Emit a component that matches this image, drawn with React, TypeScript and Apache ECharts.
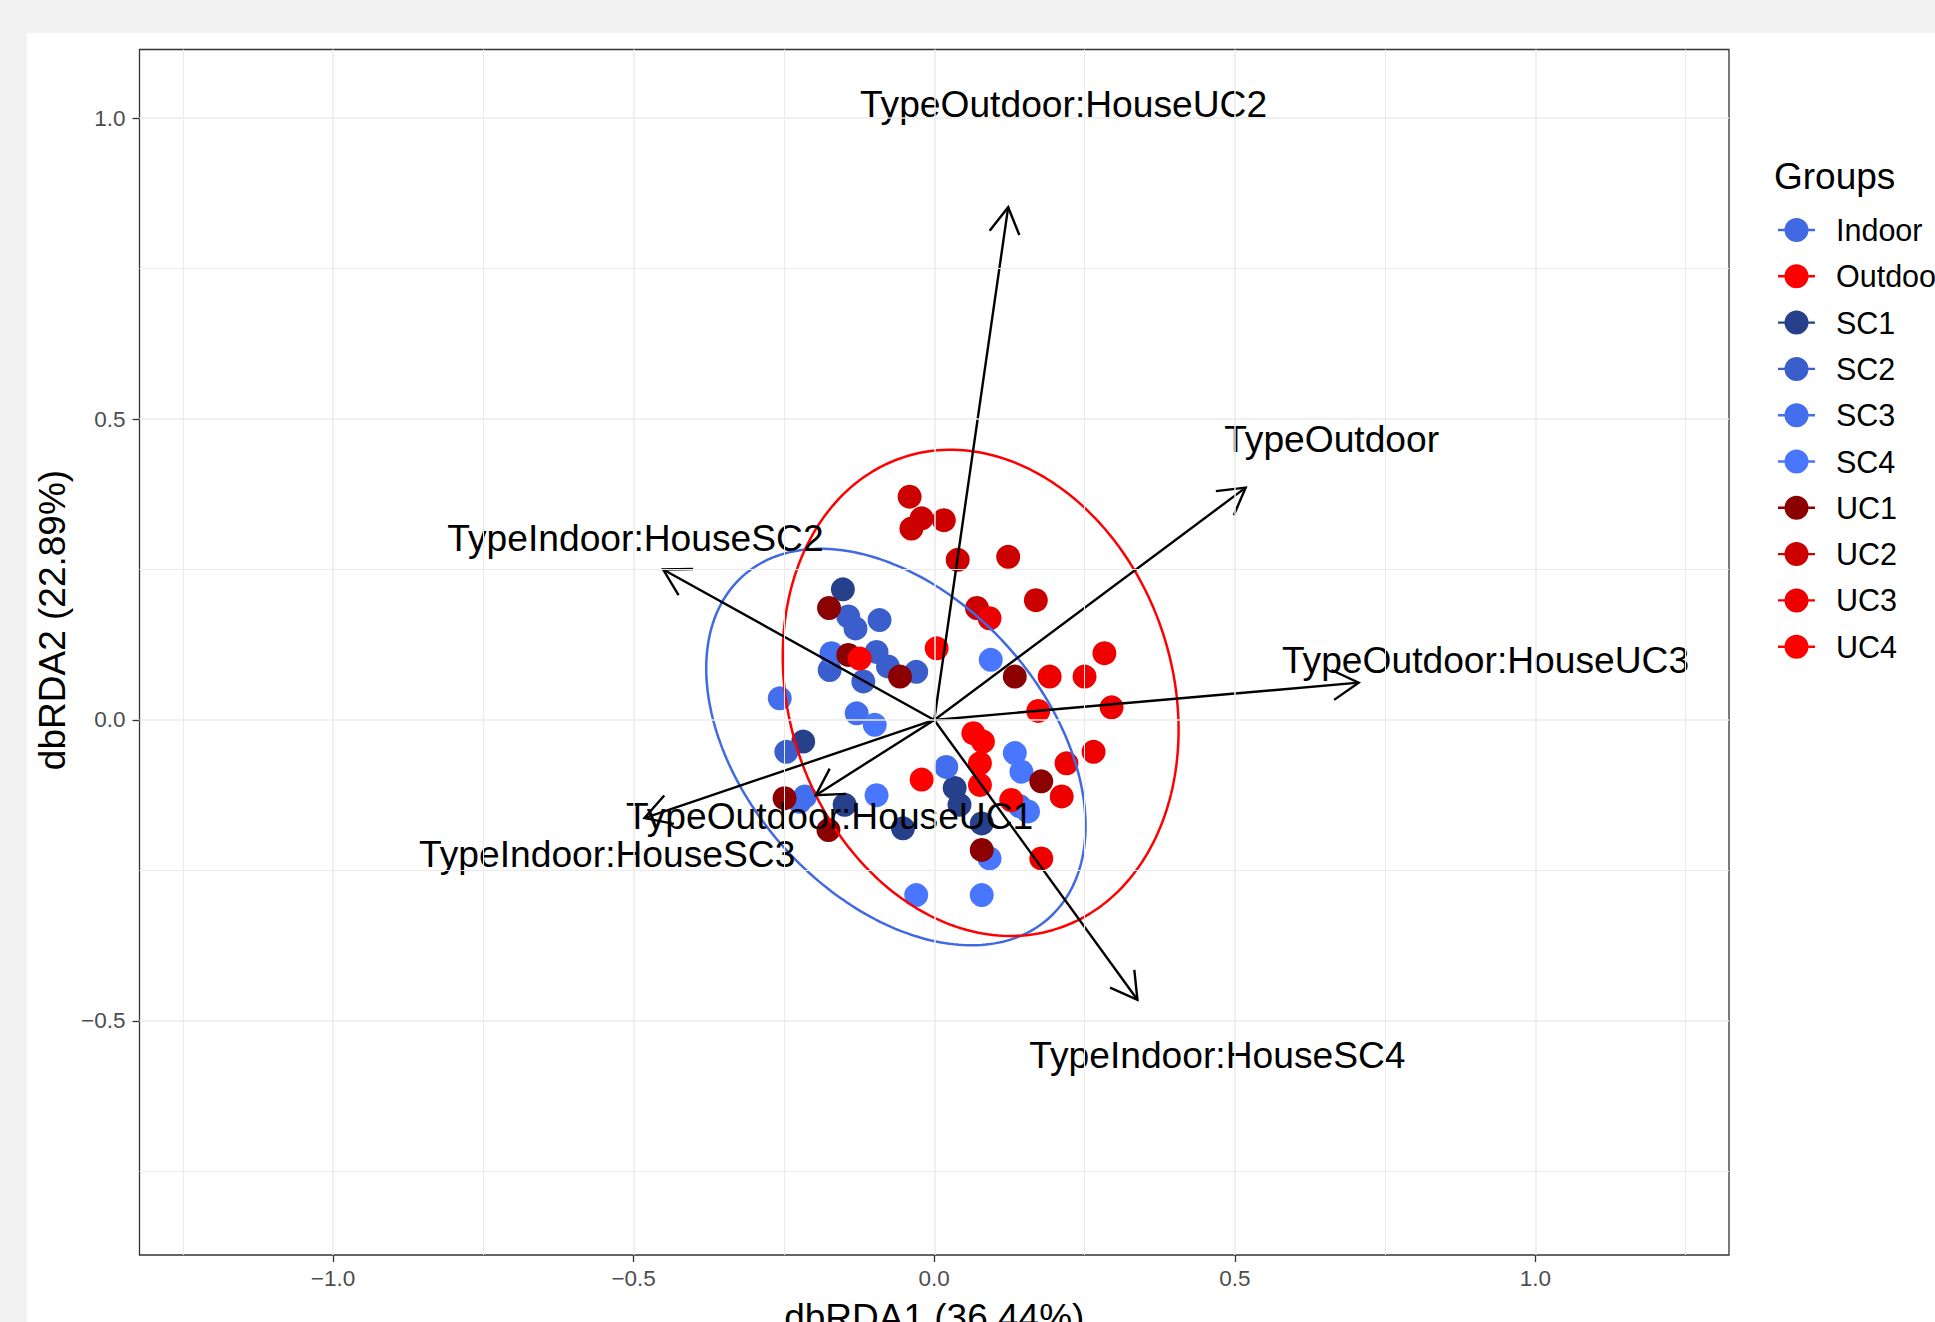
import React, { useEffect, useRef } from "react";
import * as echarts from "echarts";

const FONT = '"Liberation Sans", Arial, Helvetica, sans-serif';

// ---- data ----
const groupNames = ["Indoor", "Outdoor", "SC1", "SC2", "SC3", "SC4", "UC1", "UC2", "UC3", "UC4"];
const groupColors = ["#4169E1", "#FF0000", "#27408B", "#3A5FCD", "#436EEE", "#4876FF", "#8B0000", "#CD0000", "#EE0000", "#FF0000"];

const sc1: number[][] = [[-0.152, 0.217], [-0.218, -0.036], [-0.149, -0.141], [-0.052, -0.18], [0.034, -0.113], [0.042, -0.141], [0.079, -0.172]];
const sc2: number[][] = [[-0.143, 0.172], [-0.131, 0.152], [-0.091, 0.166], [-0.174, 0.083], [-0.096, 0.113], [-0.077, 0.089], [-0.03, 0.08], [-0.118, 0.064], [-0.246, -0.053]];
const sc3: number[][] = [[-0.171, 0.111], [-0.257, 0.036], [-0.215, -0.127], [-0.224, -0.136], [0.02, -0.078], [-0.129, 0.011], [0.142, -0.143]];
const sc4: number[][] = [[-0.099, -0.008], [-0.096, -0.125], [0.094, 0.1], [0.134, -0.055], [0.145, -0.086], [0.156, -0.152], [0.092, -0.23], [-0.03, -0.291], [0.079, -0.291]];
const uc1: number[][] = [[-0.175, 0.186], [-0.143, 0.108], [-0.057, 0.072], [0.134, 0.072], [0.178, -0.102], [0.079, -0.216], [-0.249, -0.13], [-0.176, -0.183]];
const uc2: number[][] = [[-0.041, 0.371], [-0.021, 0.335], [-0.038, 0.318], [0.016, 0.332], [0.039, 0.266], [0.123, 0.271], [0.071, 0.186], [0.169, 0.199]];
const uc3: number[][] = [[0.092, 0.169], [0.192, 0.072], [0.25, 0.072], [0.283, 0.111], [0.295, 0.021], [0.265, -0.053], [0.22, -0.072], [0.212, -0.127], [0.178, -0.23]];
const uc4: number[][] = [[0.004, 0.119], [-0.124, 0.102], [0.173, 0.015], [0.065, -0.022], [0.081, -0.036], [0.076, -0.072], [0.076, -0.108], [-0.021, -0.099], [0.128, -0.133]];

// ellipse parameters (centre, semi-axes, rotation in degrees)
const ellipseIndoor = { cx: -0.0638, cy: -0.045, a: 0.3815, b: 0.25, angle: 131.9 };
const ellipseOutdoor = { cx: 0.0772, cy: 0.045, a: 0.412, b: 0.319, angle: 108.2 };

// biplot arrows
const arrowNames = ["TypeOutdoor:HouseUC2", "TypeOutdoor", "TypeOutdoor:HouseUC3", "TypeIndoor:HouseSC2", "TypeIndoor:HouseSC3", "TypeOutdoor:HouseUC1", "TypeIndoor:HouseSC4"];
const arrowX = [0.123, 0.518, 0.706, -0.451, -0.482, -0.197, 0.338];
const arrowY = [0.852, 0.386, 0.062, 0.25, -0.163, -0.125, -0.465];
const labelX = [0.215, 0.661, 0.917, -0.497, -0.544, -0.174, 0.471];
const labelY = [1.024, 0.466, 0.099, 0.302, -0.223, -0.16, -0.557];

// axes
const xMin = -1.322, xMax = 1.322, yMin = -0.889, yMax = 1.114;
const xMajor = [-1, -0.5, 0, 0.5, 1];
const xMinor = [-1.25, -0.75, -0.25, 0.25, 0.75, 1.25];
const yMajor = [-0.5, 0, 0.5, 1];
const yMinor = [-0.75, -0.25, 0.25, 0.75];
const xTitle = "dbRDA1 (36.44%)";
const yTitle = "dbRDA2 (22.89%)";

const ICON = "path://M0,10.8 L37,10.8 L37,13.2 L0,13.2 Z M6.5,12 A12,12 0 1,1 30.5,12 A12,12 0 1,1 6.5,12 Z";

function ellipsePoints(e: { cx: number; cy: number; a: number; b: number; angle: number }, n = 240) {
  const pts: number[][] = [];
  const phi = (e.angle * Math.PI) / 180;
  for (let i = 0; i <= n; i++) {
    const t = (2 * Math.PI * i) / n;
    pts.push([
      e.cx + e.a * Math.cos(t) * Math.cos(phi) - e.b * Math.sin(t) * Math.sin(phi),
      e.cy + e.a * Math.cos(t) * Math.sin(phi) + e.b * Math.sin(t) * Math.cos(phi),
    ]);
  }
  return pts;
}

const fmt = (v: number) => v.toFixed(1).replace("-", "\u2212");

export default function App() {
  const ref = useRef<HTMLDivElement>(null);
  useEffect(() => {
    const chart = echarts.init(ref.current as HTMLDivElement, undefined, { renderer: "svg" });
    const pointGroups = [sc1, sc2, sc3, sc4, uc1, uc2, uc3, uc4];
    const gridData: any[] = [
      ...xMajor.map((v) => ({ xAxis: v, lineStyle: { width: 1.5 } })),
      ...yMajor.map((v) => ({ yAxis: v, lineStyle: { width: 1.5 } })),
      ...xMinor.map((v) => ({ xAxis: v, lineStyle: { width: 1 } })),
      ...yMinor.map((v) => ({ yAxis: v, lineStyle: { width: 1 } })),
    ];
    const option: any = {
      animation: false,
      backgroundColor: "transparent",
      grid: {
        left: 139.5, top: 49.5, right: 206, bottom: 67, show: true, borderColor: "#333333", borderWidth: 1.3,
        backgroundColor: "transparent", containLabel: false, outerBoundsMode: "none",
      },
      xAxis: {
        type: "value", min: xMin, max: xMax, minInterval: 0.5, maxInterval: 0.5,
        axisLine: { show: false, onZero: false },
        axisTick: { show: true, length: 7, lineStyle: { color: "#333333", width: 1.3 }, customValues: xMajor },
        axisLabel: { customValues: xMajor, formatter: fmt, color: "#4d4d4d", fontSize: 22.5, fontFamily: FONT, margin: 12 },
        splitLine: { show: false },
        name: xTitle, nameLocation: "middle", nameGap: 44,
        nameTextStyle: { fontSize: 37, fontFamily: FONT, color: "#000" },
      },
      yAxis: {
        type: "value", min: yMin, max: yMax, minInterval: 0.5, maxInterval: 0.5,
        axisLine: { show: false, onZero: false },
        axisTick: { show: true, length: 7, lineStyle: { color: "#333333", width: 1.3 }, customValues: yMajor },
        axisLabel: { customValues: yMajor, formatter: fmt, color: "#4d4d4d", fontSize: 22.5, fontFamily: FONT, margin: 14 },
        splitLine: { show: false },
      },
      legend: {
        orient: "vertical", left: 1778, top: 214.5, padding: 0, itemWidth: 37, itemHeight: 24, itemGap: 15.3,
        icon: ICON, selectedMode: false,
        textStyle: { fontSize: 30.5, fontFamily: FONT, color: "#000", lineHeight: 24, padding: [0, 0, 0, 16] },
        data: groupNames,
      },
      graphic: [
        { type: "text", x: 1774, y: 176, style: { text: "Groups", fontSize: 37, fontFamily: FONT, fill: "#000", align: "left", verticalAlign: "middle" } },
        { type: "text", x: 52, y: 620, rotation: Math.PI / 2, style: { text: yTitle, fontSize: 37, fontFamily: FONT, fill: "#000", align: "center", verticalAlign: "middle" } },
      ],
      series: [
        {
          type: "scatter", data: [[0, 0]], symbolSize: 0, silent: true, z: 0,
          markLine: { silent: true, symbol: ["none", "none"], label: { show: false }, lineStyle: { color: "#ebebeb", type: "solid" }, data: gridData },
        },
        ...pointGroups.map((d, i) => ({
          name: groupNames[i + 2], type: "scatter", data: d, symbol: "circle", symbolSize: 24, z: 2,
          itemStyle: { color: groupColors[i + 2], opacity: 1 }, silent: true,
        })),
        {
          name: "Indoor", type: "line", data: ellipsePoints(ellipseIndoor), showSymbol: false, smooth: false, z: 3, silent: true,
          color: groupColors[0], itemStyle: { color: groupColors[0] }, lineStyle: { color: groupColors[0], width: 2.5 },
        },
        {
          name: "Outdoor", type: "line", data: ellipsePoints(ellipseOutdoor), showSymbol: false, smooth: false, z: 3, silent: true,
          color: groupColors[1], itemStyle: { color: groupColors[1] }, lineStyle: { color: groupColors[1], width: 2.5 },
        },
        {
          type: "custom", z: 4, silent: true,
          data: arrowX.map((x, i) => [x, arrowY[i]]),
          encode: { x: 0, y: 1 },
          renderItem: (params: any, api: any) => {
            const i = params.dataIndex;
            const o = api.coord([0, 0]);
            const t = api.coord([api.value(0), api.value(1)]);
            const ang = Math.atan2(t[1] - o[1], t[0] - o[0]);
            const L = 30, A = Math.PI / 6;
            const b1 = [t[0] - L * Math.cos(ang - A), t[1] - L * Math.sin(ang - A)];
            const b2 = [t[0] - L * Math.cos(ang + A), t[1] - L * Math.sin(ang + A)];
            const lp = api.coord([labelX[i], labelY[i]]);
            return {
              type: "group",
              children: [
                { type: "line", shape: { x1: o[0], y1: o[1], x2: t[0], y2: t[1] }, style: { stroke: "#000", lineWidth: 2.4 } },
                { type: "polyline", shape: { points: [b1, t, b2] }, style: { stroke: "#000", lineWidth: 2.4, fill: null } },
                { type: "text", x: lp[0], y: lp[1], style: { text: arrowNames[i], fontSize: 37.2, fontFamily: FONT, fill: "#000", align: "center", verticalAlign: "middle" } },
              ],
            };
          },
        },
      ],
    };
    chart.setOption(option);
    return () => chart.dispose();
  }, []);
  return (
    <div style={{ position: "fixed", left: 0, top: 0, width: 1935, height: 1322, background: "#f2f2f2", overflow: "hidden" }}>
      <div style={{ position: "absolute", left: 27, top: 33, right: 0, bottom: 0, background: "#ffffff" }} />
      <div ref={ref} style={{ position: "absolute", left: 0, top: 0, width: 1935, height: 1322 }} />
    </div>
  );
}
